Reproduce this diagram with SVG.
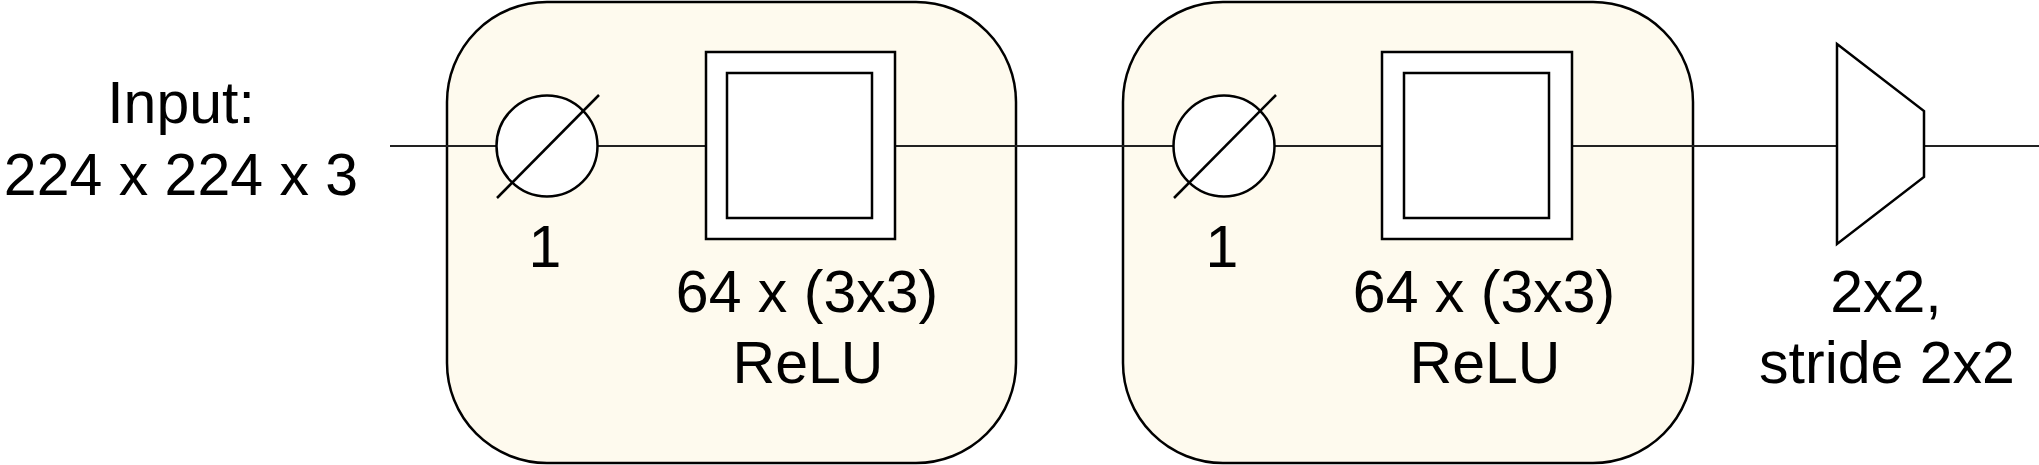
<svg xmlns="http://www.w3.org/2000/svg" width="2039" height="465" viewBox="0 0 2039 465">
<style>
.grp{fill:#fefaee;stroke:#000;stroke-width:2.5}
.shp{fill:#fff;stroke:#000;stroke-width:2.5}
.ln{fill:none;stroke:#000;stroke-width:2.5}
.con{fill:none;stroke:#222;stroke-width:2.2}
text{font-family:"Liberation Sans",Arial,sans-serif;font-size:59px;fill:#000;text-anchor:middle}
</style>
<rect width="2039" height="465" fill="#fff"/>
<g id="block1">
<rect class="grp" x="447" y="2" width="569" height="461" rx="100" ry="100"/>
</g>
<g id="block2">
<rect class="grp" x="1123" y="2" width="570" height="461" rx="100" ry="100"/>
</g>
<g id="connectors">
<line class="con" x1="390" y1="146" x2="497" y2="146"/>
<line class="con" x1="598" y1="146" x2="706" y2="146"/>
<line class="con" x1="895" y1="146" x2="1174" y2="146"/>
<line class="con" x1="1275" y1="146" x2="1382" y2="146"/>
<line class="con" x1="1572" y1="146" x2="1741" y2="146"/>
<line class="con" x1="1735" y1="146" x2="1837" y2="146"/>
<line class="con" x1="1924" y1="146" x2="2039" y2="146"/>
</g>
<g id="input">
<text x="181" y="123">Input:</text>
<text x="181" y="195">224 x 224 x 3</text>
</g>
<g id="dropout1">
<circle class="shp" cx="547" cy="146" r="50.5"/>
<line class="ln" x1="497" y1="198" x2="599" y2="95"/>
<text x="545" y="267">1</text>
</g>
<g id="conv1">
<rect class="shp" x="706" y="52" width="189" height="187"/>
<rect class="shp" x="727" y="73" width="145" height="145"/>
<text x="807" y="312">64 x (3x3)</text>
<text x="808" y="383">ReLU</text>
</g>
<g id="dropout2">
<circle class="shp" cx="1224" cy="146" r="50.5"/>
<line class="ln" x1="1174" y1="198" x2="1276" y2="95"/>
<text x="1222" y="267">1</text>
</g>
<g id="conv2">
<rect class="shp" x="1382" y="52" width="190" height="187"/>
<rect class="shp" x="1404" y="73" width="145" height="145"/>
<text x="1484" y="312">64 x (3x3)</text>
<text x="1485" y="383">ReLU</text>
</g>
<g id="pool">
<polygon class="shp" points="1837,44 1924,111 1924,177 1837,244"/>
<text x="1886" y="312">2x2,</text>
<text x="1887" y="383">stride 2x2</text>
</g>
</svg>
